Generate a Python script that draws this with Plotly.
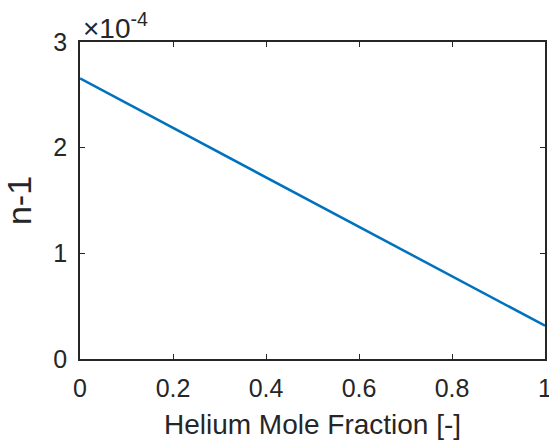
import plotly.graph_objects as go

helium_fraction = [0.0, 1.0]
n_minus_1 = [2.655e-4, 0.315e-4]

x_ticks = [0, 0.2, 0.4, 0.6, 0.8, 1]
x_tick_text = ["0", "0.2", "0.4", "0.6", "0.8", "1"]
y_ticks = [0, 1e-4, 2e-4, 3e-4]
y_tick_text = ["0", "1", "2", "3"]

axis_color = "#262626"
font_family = "Liberation Sans, Arial, sans-serif"

fig = go.Figure()
fig.add_trace(go.Scatter(
    x=helium_fraction, y=n_minus_1, mode="lines",
    line=dict(color="#0072BD", width=2.5), showlegend=False,
))

fig.update_layout(
    width=549, height=446,
    margin=dict(l=80, r=4, t=42, b=87),
    paper_bgcolor="white", plot_bgcolor="white",
    font=dict(family=font_family, color=axis_color, size=25),
)
fig.update_xaxes(
    range=[0, 1], tickvals=x_ticks, ticktext=x_tick_text,
    showgrid=False, zeroline=False, automargin=False,
    showline=True, linecolor=axis_color, linewidth=1.5, mirror="ticks",
    ticks="inside", ticklen=5, tickcolor=axis_color, tickwidth=1,
    tickfont=dict(size=25), ticklabelstandoff=6, ticklabeloverflow="allow",
    title=dict(text="Helium Mole Fraction [-]", font=dict(size=28), standoff=14),
)
fig.update_yaxes(
    range=[0, 3e-4], tickvals=y_ticks, ticktext=y_tick_text,
    showgrid=False, zeroline=False, automargin=False,
    showline=True, linecolor=axis_color, linewidth=1.5, mirror="ticks",
    ticks="inside", ticklen=5, tickcolor=axis_color, tickwidth=1,
    tickfont=dict(size=25), ticklabelstandoff=6, ticklabeloverflow="allow",
    title=dict(text="n-1", font=dict(size=34), standoff=12),
)
fig.add_annotation(
    x=0, y=1, xref="paper", yref="paper", xanchor="left", yanchor="bottom",
    text="×10<sup>-4</sup>", showarrow=False, font=dict(size=28, color=axis_color),
    xshift=1, yshift=-4,
)

fig.write_html("out.html")
